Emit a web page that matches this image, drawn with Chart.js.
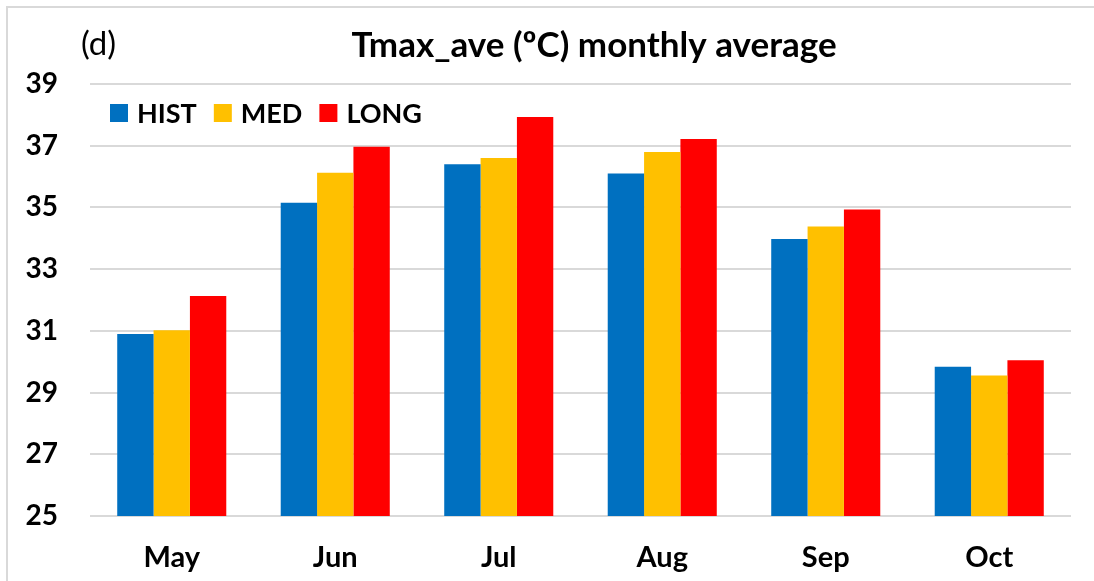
<!DOCTYPE html>
<html>
<head>
<meta charset="utf-8">
<script src="https://cdn.jsdelivr.net/npm/chart.js@4"></script>
<style>
  html, body { margin: 0; padding: 0; background: #fff; overflow: hidden; }
  canvas { display: block; }
</style>
</head>
<body>
<canvas id="myChart" width="1094" height="581"></canvas>
<script>
const months = ['May', 'Jun', 'Jul', 'Aug', 'Sep', 'Oct'];
const hist = [30.9, 35.15, 36.4, 36.1, 33.98, 29.84];
const med = [31.02, 36.12, 36.6, 36.8, 34.38, 29.55];
const long = [32.13, 36.97, 37.93, 37.22, 34.93, 30.05];
const seriesNames = ['HIST', 'MED', 'LONG'];
const seriesColors = ['#0070C0', '#FFC000', '#FF0000'];
const yTicks = [25, 27, 29, 31, 33, 35, 37, 39];
const titleText = 'Tmax_ave (ºC) monthly average';

const FONT = 'Lato, "Open Sans", sans-serif';

// title, (d) tag, legend inside the plot and the frame lines
const extras = {
    id: 'extras',
    afterDraw(chart) {
        const c = chart.ctx;
        const area = chart.chartArea;
        c.save();
        c.strokeStyle = '#d9d9d9';
        c.lineWidth = 2;
        c.beginPath();
        c.moveTo(7, 581);
        c.lineTo(7, 7);
        c.lineTo(1094, 7);
        c.stroke();

        c.fillStyle = '#000';
        c.textBaseline = 'middle';
        c.textAlign = 'center';
        c.font = 'bold 35px ' + FONT;
        c.fillText(titleText, 594, 46);

        c.textAlign = 'left';
        c.font = '33px ' + FONT;
        c.fillText('(d)', 81, 44);

        let x = area.left + 20;
        const y = 113;
        c.font = 'bold 27px ' + FONT;
        chart.data.datasets.forEach(ds => {
            c.fillStyle = ds.backgroundColor;
            c.fillRect(x, y - 9, 18, 18);
            c.fillStyle = '#000';
            c.fillText(ds.label, x + 27, y + 1);
            x += 27 + c.measureText(ds.label).width + 17;
        });
        c.restore();
    }
};

const ctx = document.getElementById('myChart').getContext('2d');
const myChart = new Chart(ctx, {
type: 'bar',
data: {
labels: months,
datasets: [
    { label: seriesNames[0], data: hist, backgroundColor: seriesColors[0] },
    { label: seriesNames[1], data: med, backgroundColor: seriesColors[1] },
    { label: seriesNames[2], data: long, backgroundColor: seriesColors[2] }
]
},
options: {
responsive: false,
animation: false,
datasets: {
    bar: { categoryPercentage: 0.667, barPercentage: 1.0 }
},
layout: {
    padding: { left: 0, right: 23, top: 84, bottom: 0 }
},
plugins: {
    legend: { display: false },
    tooltip: { enabled: false },
    title: { display: false }
},
scales: {
    x: {
        afterFit(scale) {
            scale.height = 65;
        },
        grid: { display: false, drawTicks: false },
        border: { display: false },
        ticks: {
            color: '#000',
            font: { family: FONT, size: 29, weight: 'bold' },
            padding: 24
        }
    },
    y: {
        min: 25,
        max: 39,
        afterBuildTicks(scale) {
            scale.ticks = yTicks.map(v => ({ value: v }));
        },
        afterFit(scale) {
            scale.width = 90;
        },
        grid: { color: '#d9d9d9', lineWidth: 2, drawTicks: false },
        border: { display: false },
        ticks: {
            color: '#000',
            font: { family: FONT, size: 28, weight: 'bold' },
            padding: 32
        }
    }
}
},
plugins: [extras]
});
</script>
</body>
</html>
